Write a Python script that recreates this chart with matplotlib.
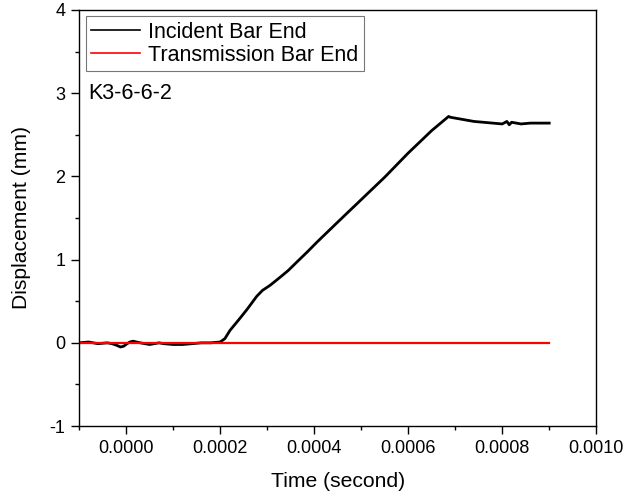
import matplotlib
matplotlib.use("Agg")
import matplotlib.pyplot as plt
from matplotlib.ticker import MultipleLocator, FormatStrFormatter

plt.rcParams['font.family'] = ['Liberation Sans', 'DejaVu Sans']

# Incident bar end displacement
time_incident = [-0.0001, -0.00008, -0.00006, -0.00004, -0.00003, -0.00002, -0.000012, -0.000005,
                 0.000002, 0.000008, 0.000015, 0.000022, 0.00003, 0.00004, 0.00005, 0.00006,
                 0.00007, 0.00008, 0.0001, 0.00012, 0.00014, 0.00016, 0.00018, 0.0002,
                 0.00021, 0.000221, 0.00024, 0.000257, 0.000278, 0.00029, 0.000306, 0.000328,
                 0.000345, 0.000363, 0.000385, 0.000406, 0.00045, 0.0005, 0.00055, 0.0006,
                 0.00065, 0.000686, 0.00069, 0.0007, 0.00071, 0.00072, 0.00074, 0.00076,
                 0.00078, 0.0008, 0.00081, 0.000815, 0.00082, 0.00084, 0.00086, 0.00088, 0.0009]
disp_incident = [0.0, 0.01, -0.01, 0.0, -0.01, -0.03, -0.05, -0.04,
                 -0.01, 0.01, 0.02, 0.01, 0.0, -0.01, -0.02, -0.01,
                 0.0, -0.01, -0.02, -0.02, -0.01, 0.0, 0.0, 0.01,
                 0.05, 0.15, 0.28, 0.40, 0.56, 0.63, 0.69, 0.79,
                 0.87, 0.97, 1.09, 1.21, 1.45, 1.72, 1.99, 2.28,
                 2.55, 2.72, 2.71, 2.70, 2.69, 2.68, 2.66, 2.65,
                 2.64, 2.63, 2.66, 2.62, 2.65, 2.63, 2.64, 2.64, 2.64]

# Transmission bar end displacement
time_transmission = [-0.0001, 0.0009]
disp_transmission = [0.0, 0.0]

fig = plt.figure(figsize=(6.23, 4.96), dpi=100)
ax = fig.add_axes([0.127, 0.141, 0.830, 0.839])

ax.plot(time_incident, disp_incident, color='black', lw=2.0, label='Incident Bar End')
ax.plot(time_transmission, disp_transmission, color='#ff0000', lw=1.6, label='Transmission Bar End')

ax.set_xlim(-0.0001, 0.001)
ax.set_ylim(-1, 4)
ax.xaxis.set_major_locator(MultipleLocator(0.0002))
ax.xaxis.set_minor_locator(MultipleLocator(0.0001))
ax.yaxis.set_major_locator(MultipleLocator(1))
ax.yaxis.set_minor_locator(MultipleLocator(0.5))
ax.xaxis.set_major_formatter(FormatStrFormatter('%.4f'))
ax.yaxis.set_major_formatter(FormatStrFormatter('%d'))

ax.tick_params(which='both', direction='out', top=False, right=False, labelsize=13, width=1.0)
ax.tick_params(which='major', length=6, pad=4)
ax.tick_params(which='minor', length=3)
for s in ax.spines.values():
    s.set_linewidth(1.0)

ax.set_xlabel('Time (second)', fontsize=15.2, labelpad=11)
ax.set_ylabel('Displacement (mm)', fontsize=15.2, labelpad=13)

leg = ax.legend(loc='upper left', fontsize=15.5, frameon=True, fancybox=False,
                edgecolor='#555555', handlelength=2.3, borderpad=0.25, labelspacing=0.1,
                handletextpad=0.35, borderaxespad=0.3)
leg.get_frame().set_linewidth(0.8)
for h in leg.get_lines():
    h.set_linewidth(1.2)

ax.text(0.017, 0.80, 'K3-6-6-2', transform=ax.transAxes, fontsize=15.5, va='center', ha='left')

fig.savefig('out.png', dpi=100)
